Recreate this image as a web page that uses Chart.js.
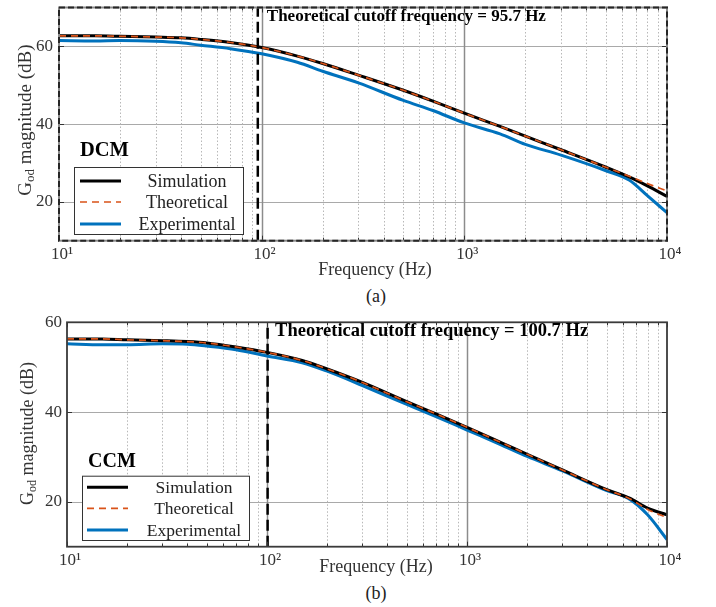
<!DOCTYPE html>
<html>
<head>
<meta charset="utf-8">
<script src="https://cdn.jsdelivr.net/npm/chart.js@4"></script>
<style>
  body{margin:0;width:716px;height:607px;background:#fff;position:relative;overflow:hidden;font-family:"Liberation Serif",serif;}
  canvas{position:absolute;left:0;}
  .cap{position:absolute;width:80px;text-align:center;font-size:18px;line-height:20px;color:#222;}
</style>
</head>
<body>
<canvas id="cA" width="716" height="282" style="top:0"></canvas>
<div class="cap" style="left:336px;top:286px">(a)</div>
<canvas id="cB" width="716" height="282" style="top:300px"></canvas>
<div class="cap" style="left:336px;top:583px">(b)</div>
<script>
// ---------- data ----------
const freqA   = [10, 15, 20, 30, 40, 50, 70, 100, 150, 200, 300, 500, 700, 1000, 1500, 2000, 3000, 5000, 6500, 8000, 10000];
const simA    = [62.7, 62.7, 62.6, 62.4, 62.2, 61.8, 61.0, 59.7, 57.5, 55.6, 52.6, 48.7, 45.9, 42.8, 39.4, 36.9, 33.4, 28.9, 26.4, 24.1, 21.4];
const theoA   = [62.7, 62.7, 62.6, 62.4, 62.2, 61.8, 61.0, 59.7, 57.5, 55.6, 52.6, 48.7, 45.9, 42.8, 39.4, 36.9, 33.4, 28.9, 26.6, 24.7, 22.8];
const expA    = [61.5, 61.4, 61.5, 61.3, 60.9, 60.3, 59.4, 58.1, 55.9, 53.6, 50.6, 46.1, 43.5, 40.3, 37.5, 34.8, 32.0, 28.0, 25.6, 21.6, 17.2];
const cutoffA = 95.7;

const freqB   = [10, 15, 20, 30, 40, 50, 70, 100, 150, 200, 300, 500, 700, 1000, 1500, 2000, 3000, 5000, 6500, 8000, 10000];
const simB    = [56.3, 56.3, 56.1, 55.9, 55.7, 55.4, 54.5, 53.3, 51.5, 49.6, 46.6, 42.3, 39.6, 36.6, 33.1, 30.6, 27.1, 22.7, 20.8, 18.6, 17.1];
const theoB   = [56.3, 56.3, 56.1, 55.9, 55.7, 55.4, 54.5, 53.3, 51.5, 49.6, 46.6, 42.3, 39.6, 36.6, 33.1, 30.6, 27.1, 22.7, 20.7, 18.3, 16.5];
const expB    = [55.2, 55.0, 55.0, 55.2, 55.1, 54.7, 53.9, 52.5, 51.0, 49.1, 45.9, 41.7, 39.0, 36.0, 32.6, 30.1, 26.9, 22.5, 20.6, 17.1, 11.6];
const cutoffB = 100.7;

const seriesNames  = ['Simulation', 'Theoretical', 'Experimental'];
const xTickValues  = [10, 100, 1000, 10000];
const xTickLabels  = ['10¹', '10²', '10³', '10⁴'];
const yLabelValues = [20, 40, 60];
const modeA = 'DCM', modeB = 'CCM';
const xTitle = 'Frequency (Hz)';

// ---------- styles ----------
const FONT = '"Liberation Serif", "Times New Roman", serif';
const seriesStyle = [
  {color:'#000000', width:3,   dash:[]},
  {color:'#D95319', width:1.7, dash:[7,5]},
  {color:'#0072BD', width:3,   dash:[]}
];

function pts(xs, ys){ return xs.map((x,i)=>({x:x, y:ys[i]})); }

function makeChart(id, d, L){
  const xGrid = [];
  for (let dec=10; dec<10000; dec*=10) for (let m=1; m<10; m++) xGrid.push(dec*m);
  xGrid.push(10000);

  const plugin = {
    id: 'deco'+id,
    beforeDatasetsDraw(chart){
      const ctx = chart.ctx, a = chart.chartArea, xs = chart.scales.x, ys = chart.scales.y;
      ctx.save();
      ys.ticks.forEach(t=>{
        if (t.value<=ys.min || t.value>=ys.max) return;
        const y = Math.round(ys.getPixelForValue(t.value))+0.5;
        ctx.strokeStyle='#a9a9a9'; ctx.lineWidth=1.2; ctx.setLineDash([]);
        ctx.beginPath(); ctx.moveTo(a.left,y); ctx.lineTo(a.right,y); ctx.stroke();
      });
      xGrid.forEach(v=>{
        if (v<=xs.min || v>=xs.max) return;
        const x = Math.round(xs.getPixelForValue(v))+0.5;
        const major = xTickValues.includes(v);
        ctx.strokeStyle = major ? '#8c8c8c' : '#b8b8b8';
        ctx.lineWidth = major ? 1.5 : 1;
        ctx.setLineDash(major ? [] : [1.5,2]);
        ctx.beginPath(); ctx.moveTo(x,a.top); ctx.lineTo(x,a.bottom); ctx.stroke();
      });
      ctx.restore();
    },
    afterDatasetsDraw(chart){
      const ctx = chart.ctx, a = chart.chartArea, xs = chart.scales.x, ys = chart.scales.y;
      ctx.save();
      ctx.setLineDash([]);
      ctx.strokeStyle='#333'; ctx.lineWidth=1;
      ys.ticks.forEach(t=>{
        const y = Math.round(ys.getPixelForValue(t.value))+0.5;
        ctx.beginPath(); ctx.moveTo(a.left,y); ctx.lineTo(a.left+5,y);
        ctx.moveTo(a.right,y); ctx.lineTo(a.right-5,y); ctx.stroke();
      });
      xGrid.forEach(v=>{
        const x = Math.round(xs.getPixelForValue(v))+0.5;
        const len = xTickValues.includes(v) ? 5 : 3;
        ctx.beginPath(); ctx.moveTo(x,a.bottom); ctx.lineTo(x,a.bottom-len);
        ctx.moveTo(x,a.top); ctx.lineTo(x,a.top+len); ctx.stroke();
      });
      if (L.dashedFrame){
        ctx.strokeStyle='#8a8a8a'; ctx.lineWidth=2;
        ctx.strokeRect(a.left, a.top, a.right-a.left, a.bottom-a.top);
        ctx.strokeStyle='#262626'; ctx.setLineDash([6,3]);
        ctx.strokeRect(a.left, a.top, a.right-a.left, a.bottom-a.top);
        ctx.setLineDash([]);
      } else {
        ctx.strokeStyle='#3a3a3a'; ctx.lineWidth=1.8;
        ctx.strokeRect(a.left, a.top, a.right-a.left, a.bottom-a.top);
      }
      ctx.fillStyle='#000';
      ctx.font = 'bold '+L.annFont+'px '+FONT;
      ctx.textBaseline='middle'; ctx.textAlign='left';
      ctx.fillText('Theoretical cutoff frequency = '+d.cutoff+' Hz', xs.getPixelForValue(d.cutoff)+L.annDx, a.top+L.annDy);
      const bx = a.left+L.lg.dx, by = a.bottom-L.lg.fromBottom;
      ctx.fillStyle='#fff';
      ctx.fillRect(bx,by,L.lg.w,L.lg.h);
      ctx.strokeStyle='#333'; ctx.lineWidth=1;
      ctx.strokeRect(bx+0.5,by+0.5,L.lg.w,L.lg.h);
      ctx.font = L.lg.font+'px '+FONT;
      ctx.textAlign='center'; ctx.textBaseline='middle';
      seriesNames.forEach((n,i)=>{
        const st = seriesStyle[i], y = by+L.lg.rows[i];
        ctx.strokeStyle=st.color; ctx.lineWidth=st.width; ctx.setLineDash(st.dash);
        ctx.beginPath(); ctx.moveTo(bx+L.lg.lineX[0],y); ctx.lineTo(bx+L.lg.lineX[1],y); ctx.stroke();
        ctx.setLineDash([]);
        ctx.fillStyle='#222';
        ctx.fillText(n, bx+L.lg.textCx, y+1);
      });
      ctx.fillStyle='#000'; ctx.textAlign='left';
      ctx.font='bold '+L.modeFont+'px '+FONT;
      ctx.fillText(d.mode, a.left+21, by-L.modeDy);
      ctx.fillStyle='#333'; ctx.textAlign='center';
      ctx.font=L.xtFont+'px '+FONT;
      ctx.fillText(xTitle, L.xtX, L.xtY);
      ctx.translate(L.ytX, (a.top+a.bottom)/2 + L.ytDy);
      ctx.rotate(-Math.PI/2);
      const f1 = L.ytFont+'px '+FONT, f2 = Math.round(L.ytFont*0.66)+'px '+FONT;
      ctx.font=f1; const wG = ctx.measureText('G').width, wR = ctx.measureText(' magnitude (dB)').width;
      ctx.font=f2; const wS = ctx.measureText('od').width;
      let x0 = -(wG+wS+wR)/2, base = L.ytFont*0.33;
      ctx.textAlign='left'; ctx.textBaseline='alphabetic';
      ctx.font=f1; ctx.fillText('G', x0, base);
      ctx.font=f2; ctx.fillText('od', x0+wG, base+3);
      ctx.font=f1; ctx.fillText(' magnitude (dB)', x0+wG+wS, base);
      ctx.restore();
    }
  };

  const ds = [
    {label:'cutoff', data:[{x:d.cutoff,y:d.ymin},{x:d.cutoff,y:d.ymax}], borderColor:'#000', borderWidth:2.5, borderDash:[11,5], pointRadius:0},
    {label:seriesNames[1], data:pts(d.f,d.theo), borderColor:seriesStyle[1].color, borderWidth:seriesStyle[1].width, borderDash:seriesStyle[1].dash, pointRadius:0, cubicInterpolationMode:'monotone'},
    {label:seriesNames[0], data:pts(d.f,d.sim), borderColor:seriesStyle[0].color, borderWidth:seriesStyle[0].width, pointRadius:0, cubicInterpolationMode:'monotone'},
    {label:seriesNames[2], data:pts(d.f,d.exp), borderColor:seriesStyle[2].color, borderWidth:seriesStyle[2].width, pointRadius:0, cubicInterpolationMode:'monotone'}
  ];

  return new Chart(document.getElementById(id), {
    type:'line',
    data:{datasets:ds},
    options:{
      responsive:false, animation:false, devicePixelRatio:1,
      layout:{padding:{top:L.padTop, right:L.padRight, left:0, bottom:0}},
      plugins:{legend:{display:false}, tooltip:{enabled:false}, title:{display:false}},
      scales:{
        x:{type:'logarithmic', min:10, max:10000,
           grid:{display:false, drawTicks:false}, border:{display:false},
           afterBuildTicks: s => { s.ticks = xGrid.map(v=>({value:v})); },
           afterFit: s => { s.height = L.xH; s.paddingLeft = 0; s.paddingRight = 0; },
           ticks:{autoSkip:false, maxRotation:0, padding:4, labelOffset:3, color:'#333',
                  font:{family:FONT, size:17},
                  callback:(v)=>{ const i = xTickValues.indexOf(v); return i>=0 ? xTickLabels[i] : null; }}
        },
        y:{type:'linear', min:d.ymin, max:d.ymax,
           grid:{display:false, drawTicks:false}, border:{display:false},
           afterFit: s => { s.width = L.yW; s.paddingTop = 0; s.paddingBottom = 0; },
           ticks:{stepSize:d.ystep, padding:L.yPad, color:'#333', font:{family:FONT, size:17},
                  callback:(v)=> yLabelValues.includes(v) ? String(v) : null}
        }
      }
    },
    plugins:[plugin]
  });
}

makeChart('cA',
  {f:freqA, sim:simA, theo:theoA, exp:expA, cutoff:cutoffA, mode:modeA, ymin:10, ymax:70, ystep:10},
  {padTop:7.5, padRight:49, yW:59, xH:282-240.7, yPad:6, dashedFrame:true,
   annFont:17, annDx:9, annDy:9.5,
   lg:{dx:15, w:169, fromBottom:73.7, h:67, rows:[14,35,57], lineX:[6,47], textCx:113, font:18},
   modeFont:20.5, modeDy:16, xtFont:18, xtX:375, xtY:270, ytFont:19, ytX:25, ytDy:-4});

makeChart('cB',
  {f:freqB, sim:simB, theo:theoB, exp:expB, cutoff:cutoffB, mode:modeB, ymin:10, ymax:60, ystep:5},
  {padTop:22.3, padRight:49, yW:67, xH:282-246.7, yPad:5, dashedFrame:false,
   annFont:18.5, annDx:7.5, annDy:9.4,
   lg:{dx:15, w:167, fromBottom:71, h:64.3, rows:[11.6,32.6,54.3], lineX:[5,46], textCx:112, font:17.5},
   modeFont:20, modeDy:14, xtFont:18, xtX:376, xtY:267, ytFont:18, ytX:27, ytDy:-1});
</script>
</body>
</html>
